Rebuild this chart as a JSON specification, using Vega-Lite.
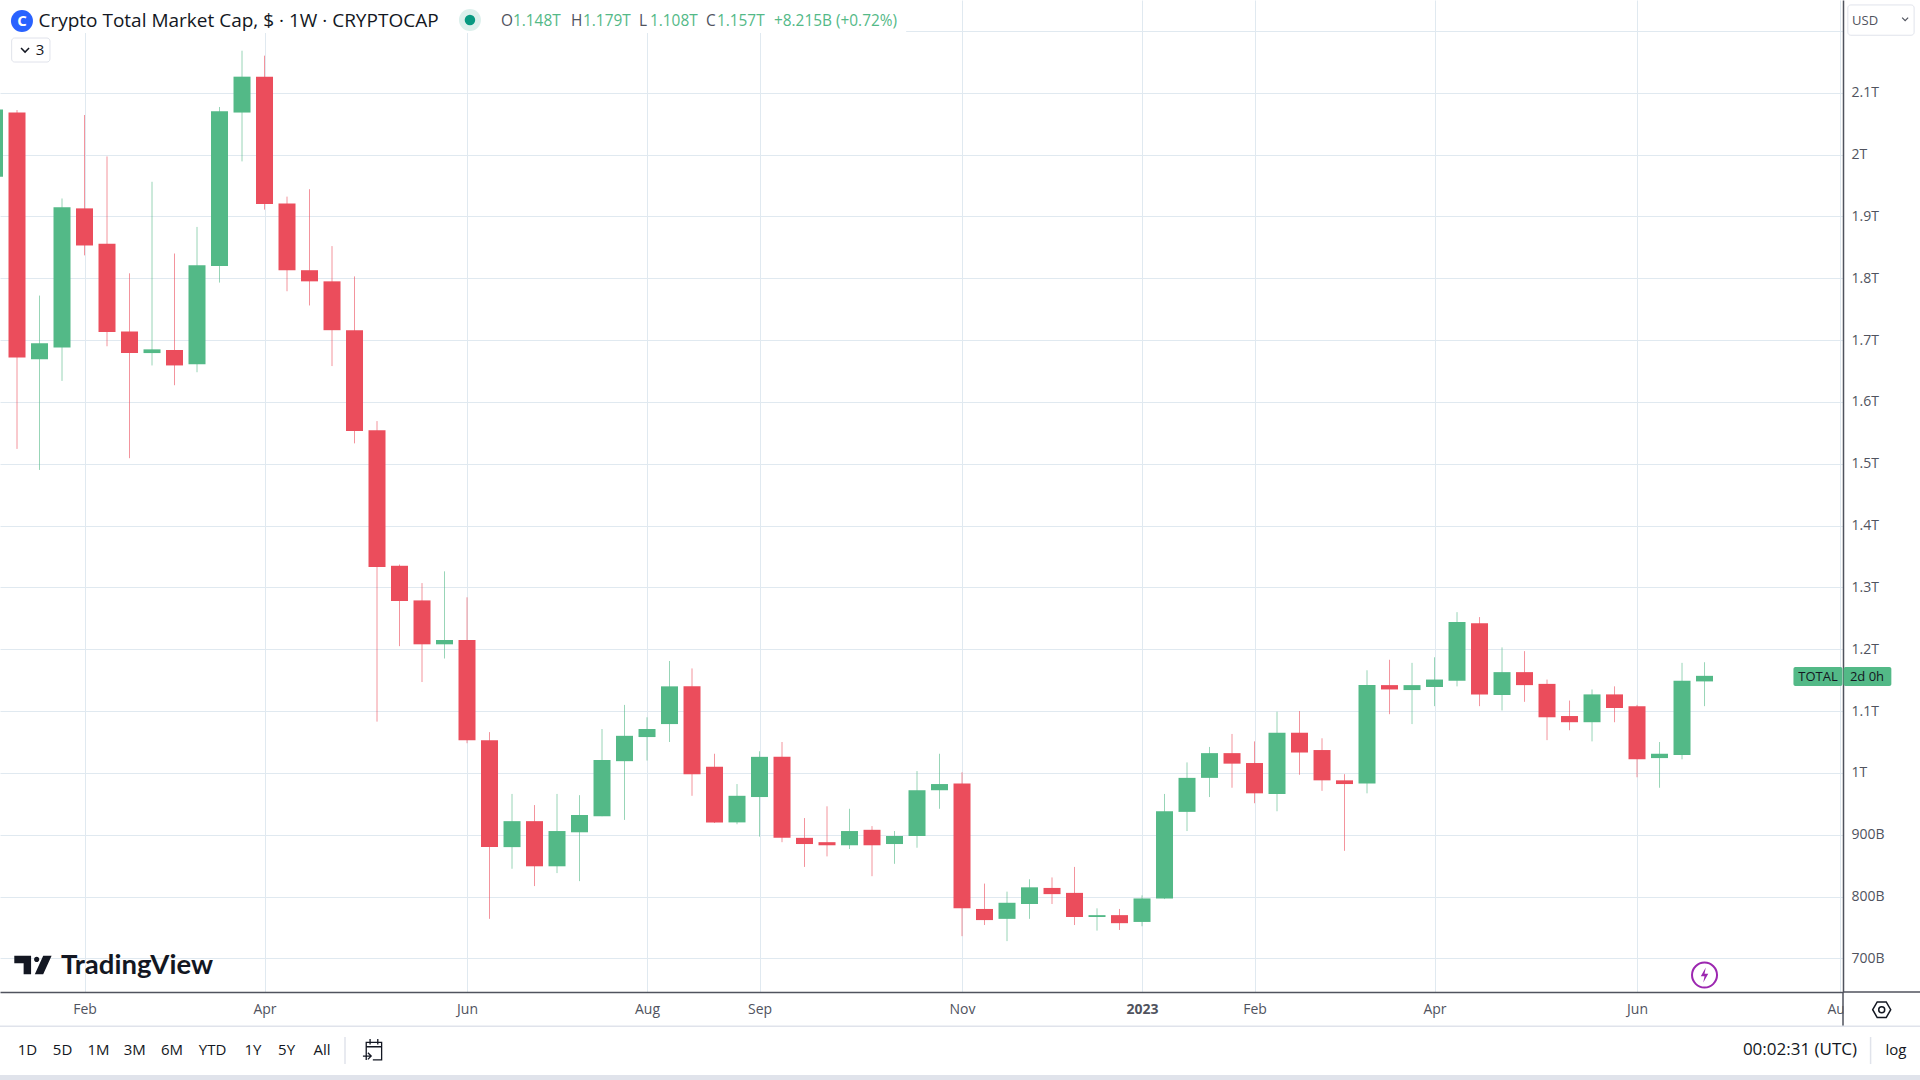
{
  "$schema": "https://vega.github.io/schema/vega-lite/v5.json",
  "background": "white",
  "autosize": "none",
  "padding": {"left": 0, "top": 0, "right": 77, "bottom": 88},
  "width": 1843,
  "height": 992,
  "view": {"stroke": null},
  "config": {"text": {"font": "Open Sans", "baseline": "middle"}},
  "datasets": {
    "candles": [
      {"date":"2022-01-10","open":1964,"high":2082,"low":1954,"close":2073},
      {"date":"2022-01-17","open":2068,"high":2072,"low":1524,"close":1672},
      {"date":"2022-01-24","open":1669,"high":1772,"low":1490,"close":1695},
      {"date":"2022-01-31","open":1688,"high":1929,"low":1634,"close":1915},
      {"date":"2022-02-07","open":1913,"high":2064,"low":1837,"close":1853},
      {"date":"2022-02-14","open":1856,"high":1997,"low":1690,"close":1713},
      {"date":"2022-02-21","open":1714,"high":1808,"low":1509,"close":1679},
      {"date":"2022-02-28","open":1679,"high":1956,"low":1659,"close":1685},
      {"date":"2022-03-07","open":1684,"high":1840,"low":1627,"close":1659},
      {"date":"2022-03-14","open":1661,"high":1883,"low":1648,"close":1821},
      {"date":"2022-03-21","open":1820,"high":2077,"low":1793,"close":2070},
      {"date":"2022-03-28","open":2068,"high":2168,"low":1989,"close":2126},
      {"date":"2022-04-04","open":2126,"high":2160,"low":1911,"close":1920},
      {"date":"2022-04-11","open":1921,"high":1932,"low":1779,"close":1813},
      {"date":"2022-04-18","open":1813,"high":1944,"low":1756,"close":1795},
      {"date":"2022-04-25","open":1795,"high":1852,"low":1658,"close":1716},
      {"date":"2022-05-02","open":1716,"high":1803,"low":1533,"close":1553},
      {"date":"2022-05-09","open":1554,"high":1569,"low":1083,"close":1333},
      {"date":"2022-05-16","open":1335,"high":1337,"low":1205,"close":1278},
      {"date":"2022-05-23","open":1279,"high":1307,"low":1147,"close":1208},
      {"date":"2022-05-30","open":1208,"high":1326,"low":1185,"close":1215},
      {"date":"2022-06-06","open":1215,"high":1284,"low":1048,"close":1053},
      {"date":"2022-06-13","open":1053,"high":1066,"low":764,"close":880},
      {"date":"2022-06-20","open":880,"high":966,"low":845,"close":922},
      {"date":"2022-06-27","open":922,"high":948,"low":817,"close":849},
      {"date":"2022-07-04","open":849,"high":966,"low":838,"close":906},
      {"date":"2022-07-11","open":904,"high":964,"low":825,"close":932},
      {"date":"2022-07-18","open":930,"high":1071,"low":930,"close":1021},
      {"date":"2022-07-25","open":1019,"high":1110,"low":924,"close":1060},
      {"date":"2022-08-01","open":1058,"high":1090,"low":1020,"close":1071},
      {"date":"2022-08-08","open":1079,"high":1181,"low":1050,"close":1140},
      {"date":"2022-08-15","open":1140,"high":1169,"low":963,"close":998},
      {"date":"2022-08-22","open":1010,"high":1031,"low":919,"close":920},
      {"date":"2022-08-29","open":920,"high":982,"low":917,"close":963},
      {"date":"2022-09-05","open":961,"high":1035,"low":897,"close":1026},
      {"date":"2022-09-12","open":1026,"high":1050,"low":888,"close":895},
      {"date":"2022-09-19","open":895,"high":927,"low":848,"close":885},
      {"date":"2022-09-26","open":888,"high":946,"low":865,"close":883},
      {"date":"2022-10-03","open":883,"high":942,"low":877,"close":906},
      {"date":"2022-10-10","open":908,"high":914,"low":833,"close":883},
      {"date":"2022-10-17","open":885,"high":906,"low":853,"close":898},
      {"date":"2022-10-24","open":898,"high":1003,"low":879,"close":972},
      {"date":"2022-10-31","open":972,"high":1031,"low":942,"close":982},
      {"date":"2022-11-07","open":983,"high":1001,"low":736,"close":781},
      {"date":"2022-11-14","open":780,"high":821,"low":754,"close":762},
      {"date":"2022-11-21","open":764,"high":808,"low":728,"close":790},
      {"date":"2022-11-28","open":788,"high":828,"low":764,"close":815},
      {"date":"2022-12-05","open":814,"high":831,"low":788,"close":804},
      {"date":"2022-12-12","open":806,"high":848,"low":754,"close":767},
      {"date":"2022-12-19","open":767,"high":781,"low":745,"close":770},
      {"date":"2022-12-26","open":770,"high":780,"low":746,"close":757},
      {"date":"2023-01-02","open":759,"high":802,"low":752,"close":797},
      {"date":"2023-01-09","open":797,"high":966,"low":796,"close":938},
      {"date":"2023-01-16","open":937,"high":1017,"low":906,"close":992},
      {"date":"2023-01-23","open":992,"high":1042,"low":961,"close":1032},
      {"date":"2023-01-30","open":1032,"high":1063,"low":976,"close":1015},
      {"date":"2023-02-06","open":1016,"high":1051,"low":951,"close":967},
      {"date":"2023-02-13","open":966,"high":1099,"low":938,"close":1065},
      {"date":"2023-02-20","open":1065,"high":1100,"low":997,"close":1033},
      {"date":"2023-02-27","open":1037,"high":1056,"low":971,"close":988},
      {"date":"2023-03-06","open":988,"high":998,"low":874,"close":982},
      {"date":"2023-03-13","open":983,"high":1166,"low":967,"close":1142},
      {"date":"2023-03-20","open":1142,"high":1183,"low":1095,"close":1135},
      {"date":"2023-03-27","open":1134,"high":1178,"low":1079,"close":1142},
      {"date":"2023-04-03","open":1139,"high":1187,"low":1108,"close":1151},
      {"date":"2023-04-10","open":1149,"high":1260,"low":1140,"close":1244},
      {"date":"2023-04-17","open":1242,"high":1252,"low":1108,"close":1127},
      {"date":"2023-04-24","open":1126,"high":1203,"low":1101,"close":1163},
      {"date":"2023-05-01","open":1163,"high":1197,"low":1115,"close":1142},
      {"date":"2023-05-08","open":1144,"high":1151,"low":1053,"close":1090},
      {"date":"2023-05-15","open":1092,"high":1117,"low":1069,"close":1082},
      {"date":"2023-05-22","open":1082,"high":1135,"low":1051,"close":1127},
      {"date":"2023-05-29","open":1127,"high":1140,"low":1082,"close":1105},
      {"date":"2023-06-05","open":1108,"high":1110,"low":993,"close":1022},
      {"date":"2023-06-12","open":1024,"high":1050,"low":976,"close":1031},
      {"date":"2023-06-19","open":1029,"high":1178,"low":1022,"close":1149},
      {"date":"2023-06-26","open":1148,"high":1179,"low":1108,"close":1157}
    ]
  },
  "encoding": {
    "x": {
      "field": "date",
      "type": "temporal",
      "title": null,
      "scale": {
        "type": "utc",
        "nice": false,
        "padding": 0,
        "domain": [
          {"year": 2022, "month": 1, "date": 11, "hours": 17, "utc": true},
          {"year": 2023, "month": 8, "date": 8, "hours": 2, "utc": true}
        ]
      },
      "axis": {
        "orient": "bottom",
        "values": [
          {"year": 2022, "month": 2, "date": 7, "utc": true},
          {"year": 2022, "month": 4, "date": 4, "utc": true},
          {"year": 2022, "month": 6, "date": 6, "utc": true},
          {"year": 2022, "month": 8, "date": 1, "utc": true},
          {"year": 2022, "month": 9, "date": 5, "utc": true},
          {"year": 2022, "month": 11, "date": 7, "utc": true},
          {"year": 2023, "month": 1, "date": 2, "utc": true},
          {"year": 2023, "month": 2, "date": 6, "utc": true},
          {"year": 2023, "month": 4, "date": 3, "utc": true},
          {"year": 2023, "month": 6, "date": 5, "utc": true},
          {"year": 2023, "month": 8, "date": 7, "utc": true}
        ],
        "labelExpr": "utcyear(datum.value)==2023 && utcmonth(datum.value)==0 ? '2023' : utcFormat(datum.value,'%b')",
        "labelFontWeight": {"condition": {"test": "utcyear(datum.value)==2023 && utcmonth(datum.value)==0", "value": "bold"}, "value": "normal"},
        "labelFont": "Open Sans",
        "labelFontSize": 14,
        "labelColor": "#50535e",
        "labelPadding": 10,
        "labelOverlap": false,
        "labelFlush": false,
        "ticks": false,
        "grid": true,
        "gridColor": "#e0e9f0",
        "gridWidth": 1,
        "domainColor": "#50535e",
        "domainWidth": 1.5
      }
    }
  },
  "layer": [
    {
      "data": {"name": "candles"},
      "mark": {"type": "rule", "strokeWidth": 1, "opacity": 0.6, "clip": true},
      "encoding": {
        "y": {
          "field": "low",
          "type": "quantitative",
          "title": null,
          "scale": {"domain": [645.7, 2250], "nice": false, "zero": false},
          "axis": {
            "orient": "right",
            "values": [700,800,900,1000,1100,1200,1300,1400,1500,1600,1700,1800,1900,2000,2100,2200],
            "labelExpr": "datum.value >= 1000 ? format(datum.value/1000,'.1~f') + 'T' : datum.value + 'B'",
            "labelFont": "Open Sans",
            "labelFontSize": 14,
            "labelColor": "#50535e",
            "labelPadding": 8,
            "labelOverlap": false,
            "labelFlush": false,
            "ticks": false,
            "grid": true,
            "gridColor": "#e0e9f0",
            "gridWidth": 1,
            "domainColor": "#50535e",
            "domainWidth": 1.5
          }
        },
        "y2": {"field": "high"},
        "color": {"condition": {"test": "datum.close >= datum.open", "value": "#53b987"}, "value": "#eb4d5c"}
      }
    },
    {
      "data": {"name": "candles"},
      "mark": {"type": "bar", "size": 17, "clip": true},
      "encoding": {
        "y": {"field": "open", "type": "quantitative", "title": null},
        "y2": {"field": "close"},
        "color": {"condition": {"test": "datum.close >= datum.open", "value": "#53b987"}, "value": "#eb4d5c"}
      }
    },
    {
      "data": {"values": [
        {"date":"2021-12-20","date2":"2022-10-20T15:00:00Z","value":2196.6,"value2":2300},
        {"date":"2023-08-08T06:00:00Z","date2":"2023-09-02","value":644.5,"value2":592}
      ]},
      "mark": {"type": "rect", "color": "white"},
      "encoding": {
        "x2": {"field": "date2"},
        "y": {"field": "value", "type": "quantitative", "title": null},
        "y2": {"field": "value2"}
      }
    },
    {
      "data": {"values": [
        {"date":"2022-01-15T08:00:00Z","date2":"2022-01-27T06:00:00Z","value":2188.5,"value2":2149.7},
        {"date":"2023-08-09T14:00:00Z","date2":"2023-08-30T05:00:00Z","value":2242,"value2":2193}
      ]},
      "mark": {"type": "rect", "fill": "white", "stroke": "#e0e3eb", "strokeWidth": 1, "cornerRadius": 3},
      "encoding": {
        "x2": {"field": "date2"},
        "y": {"field": "value", "type": "quantitative", "title": null},
        "y2": {"field": "value2"}
      }
    },
    {
      "data": {"values": [
        {"date":"2022-01-01","date2":"2023-09-02","value":511.4,"value2":500}
      ]},
      "mark": {"type": "rect", "color": "#e0e3eb"},
      "encoding": {
        "x2": {"field": "date2"},
        "y": {"field": "value", "type": "quantitative", "title": null},
        "y2": {"field": "value2"}
      }
    },
    {
      "data": {"values": [
        {"date":"2023-07-23T16:00:00Z","date2":"2023-08-07T22:00:00Z","value":1171.3,"value2":1140.5},
        {"date":"2023-08-08T06:00:00Z","date2":"2023-08-23T03:00:00Z","value":1171.3,"value2":1140.5}
      ]},
      "mark": {"type": "rect", "color": "#53b987", "cornerRadius": 2},
      "encoding": {
        "x2": {"field": "date2"},
        "y": {"field": "value", "type": "quantitative", "title": null},
        "y2": {"field": "value2"}
      }
    },
    {
      "data": {"values": [
        {"date":"2023-08-08T02:00:00Z","date2":"2023-08-08T02:00:00Z","value":645.7,"value2":590.6},
        {"date":"2023-08-08T02:00:00Z","date2":"2023-09-02","value":645.7,"value2":645.7}
      ]},
      "mark": {"type": "rule", "color": "#50535e", "strokeWidth": 1.5},
      "encoding": {
        "x2": {"field": "date2"},
        "y": {"field": "value", "type": "quantitative", "title": null},
        "y2": {"field": "value2"}
      }
    },
    {
      "data": {"values": [
        {"date":"2022-01-01","date2":"2023-09-02","value":590.4,"value2":590.4},
        {"date":"2022-04-29T01:00:00Z","date2":"2022-04-29T01:00:00Z","value":572.9,"value2":529.2},
        {"date":"2023-08-16T16:00:00Z","date2":"2023-08-16T16:00:00Z","value":572.9,"value2":529.2}
      ]},
      "mark": {"type": "rule", "color": "#e0e3eb", "strokeWidth": 1.5},
      "encoding": {
        "x2": {"field": "date2"},
        "y": {"field": "value", "type": "quantitative", "title": null},
        "y2": {"field": "value2"}
      }
    },
    {
      "data": {"values": [{"label":"Crypto Total Market Cap, $ · 1W · CRYPTOCAP","date":"2022-01-23T16:00:00Z","value":2216}]},
      "mark": {"type": "text", "align": "left", "fontSize": 19, "color": "#131722"},
      "encoding": {"text": {"field": "label"}, "y": {"field": "value", "type": "quantitative", "title": null}}
    },
    {
      "data": {"values": [
        {"label":"O","date":"2022-06-16T14:00:00Z","value":2216},
        {"label":"H","date":"2022-07-08T08:00:00Z","value":2216},
        {"label":"L","date":"2022-07-29T12:00:00Z","value":2216},
        {"label":"C","date":"2022-08-19T08:00:00Z","value":2216}
      ]},
      "mark": {"type": "text", "align": "left", "fontSize": 15.4, "color": "#50535e"},
      "encoding": {"text": {"field": "label"}, "y": {"field": "value", "type": "quantitative", "title": null}}
    },
    {
      "data": {"values": [
        {"label":"1.148T","date":"2022-06-20T07:00:00Z","value":2216},
        {"label":"1.179T","date":"2022-07-12T02:00:00Z","value":2216},
        {"label":"1.108T","date":"2022-08-01T22:00:00Z","value":2216},
        {"label":"1.157T","date":"2022-08-22T18:00:00Z","value":2216},
        {"label":"+8.215B (+0.72%)","date":"2022-09-09T12:00:00Z","value":2216}
      ]},
      "mark": {"type": "text", "align": "left", "fontSize": 15.4, "color": "#53b987"},
      "encoding": {"text": {"field": "label"}, "y": {"field": "value", "type": "quantitative", "title": null}}
    },
    {
      "data": {"values": [
        {"label":"3","date":"2022-01-24T04:00:00Z","value":2169},
        {"label":"1D","date":"2022-01-20T06:00:00Z","value":551.8},
        {"label":"5D","date":"2022-01-31T04:00:00Z","value":551.8},
        {"label":"1M","date":"2022-02-11T09:00:00Z","value":551.8},
        {"label":"3M","date":"2022-02-22T15:00:00Z","value":551.8},
        {"label":"6M","date":"2022-03-06T05:00:00Z","value":551.8},
        {"label":"YTD","date":"2022-03-18T20:00:00Z","value":551.8},
        {"label":"1Y","date":"2022-03-31T10:00:00Z","value":551.8},
        {"label":"5Y","date":"2022-04-10T21:00:00Z","value":551.8},
        {"label":"All","date":"2022-04-21T21:00:00Z","value":551.8},
        {"label":"log","date":"2023-08-24T13:00:00Z","value":551.8}
      ]},
      "mark": {"type": "text", "align": "center", "fontSize": 15, "color": "#131722"},
      "encoding": {"text": {"field": "label"}, "y": {"field": "value", "type": "quantitative", "title": null}}
    },
    {
      "data": {"values": [{"label":"00:02:31 (UTC)","date":"2023-08-12T11:00:00Z","value":551.8}]},
      "mark": {"type": "text", "align": "right", "fontSize": 17, "color": "#131722"},
      "encoding": {"text": {"field": "label"}, "y": {"field": "value", "type": "quantitative", "title": null}}
    },
    {
      "data": {"values": [{"label":"USD","date":"2023-08-10T22:00:00Z","value":2216}]},
      "mark": {"type": "text", "align": "left", "fontSize": 13, "color": "#50535e"},
      "encoding": {"text": {"field": "label"}, "y": {"field": "value", "type": "quantitative", "title": null}}
    },
    {
      "data": {"values": [
        {"label":"TOTAL","date":"2023-07-31T07:00:00Z","value":1155.9},
        {"label":"2d 0h","date":"2023-08-15T13:00:00Z","value":1155.9}
      ]},
      "mark": {"type": "text", "align": "center", "fontSize": 13, "color": "#131722"},
      "encoding": {"text": {"field": "label"}, "y": {"field": "value", "type": "quantitative", "title": null}}
    },
    {
      "data": {"values": [{"label":"TradingView","date":"2022-01-30T17:00:00Z","value":687.7}]},
      "mark": {"type": "text", "align": "left", "fontSize": 27.5, "font": "Lato", "fontWeight": 700, "color": "#131722"},
      "encoding": {"text": {"field": "label"}, "y": {"field": "value", "type": "quantitative", "title": null}}
    },
    {
      "data": {"values": [{"date":"2022-01-18T13:00:00Z","value":2216}]},
      "mark": {"type": "point", "shape": "circle", "filled": true, "size": 484, "color": "#2962ff", "opacity": 1},
      "encoding": {"y": {"field": "value", "type": "quantitative", "title": null}}
    },
    {
      "data": {"values": [{"label":"C","date":"2022-01-18T13:00:00Z","value":2216}]},
      "mark": {"type": "text", "align": "center", "fontSize": 15, "fontWeight": "bold", "color": "white"},
      "encoding": {"text": {"field": "label"}, "y": {"field": "value", "type": "quantitative", "title": null}}
    },
    {
      "data": {"values": [{"date":"2022-06-06T22:00:00Z","value":2217.7}]},
      "mark": {"type": "point", "shape": "circle", "filled": true, "size": 484, "color": "#dcf0ec", "opacity": 1},
      "encoding": {"y": {"field": "value", "type": "quantitative", "title": null}}
    },
    {
      "data": {"values": [{"date":"2022-06-06T22:00:00Z","value":2217.7}]},
      "mark": {"type": "point", "shape": "circle", "filled": true, "size": 110, "color": "#089981", "opacity": 1},
      "encoding": {"y": {"field": "value", "type": "quantitative", "title": null}}
    },
    {
      "data": {"values": [{"date":"2022-01-19T12:00:00Z","value":2169}]},
      "mark": {"type": "point", "shape": "M-1,-.5L0,.5L1,-.5", "filled": false, "size": 64, "stroke": "#131722", "strokeWidth": 1.5, "opacity": 1},
      "encoding": {"y": {"field": "value", "type": "quantitative", "title": null}}
    },
    {
      "data": {"values": [{"date":"2023-08-27T10:00:00Z","value":2219}]},
      "mark": {"type": "point", "shape": "M-1,-.5L0,.5L1,-.5", "filled": false, "size": 36, "stroke": "#50535e", "strokeWidth": 1.2, "opacity": 1},
      "encoding": {"y": {"field": "value", "type": "quantitative", "title": null}}
    },
    {
      "data": {"values": [{"date":"2022-01-21T23:00:00Z","value":689.3}]},
      "mark": {"type": "point", "shape": "M-1,-.5H-.1V.5H-.5V-.1H-1ZM.06,-.3A.14,.14 0 1 0 .34,-.3A.14,.14 0 1 0 .06,-.3ZM.55,-.5H1L.55,.5H.1Z", "filled": true, "size": 1391, "color": "#131722", "opacity": 1},
      "encoding": {"y": {"field": "value", "type": "quantitative", "title": null}}
    },
    {
      "data": {"values": [{"date":"2023-06-26","value":673.1}]},
      "mark": {"type": "point", "shape": "circle", "filled": false, "size": 625, "stroke": "#9c27b0", "strokeWidth": 2, "opacity": 1},
      "encoding": {"y": {"field": "value", "type": "quantitative", "title": null}}
    },
    {
      "data": {"values": [{"date":"2023-06-26","value":673.1}]},
      "mark": {"type": "point", "shape": "M.1,-.6L-.3,.1H0L-.1,.6L.3,-.1H0Z", "filled": true, "size": 625, "color": "#9c27b0", "opacity": 1},
      "encoding": {"y": {"field": "value", "type": "quantitative", "title": null}}
    },
    {
      "data": {"values": [{"date":"2022-05-08T01:00:00Z","value":551.8}]},
      "mark": {"type": "point", "shape": "M-.7,.9V-.7H.7V.9H-.1M-.7,-.3H.7M-.35,-1V-.5M.35,-1V-.5M-1,.55H-.25M-.55,.25L-.25,.55L-.55,.85", "filled": false, "size": 484, "stroke": "#131722", "strokeWidth": 1.3, "opacity": 1},
      "encoding": {"y": {"field": "value", "type": "quantitative", "title": null}}
    },
    {
      "data": {"values": [{"date":"2023-08-20T03:00:00Z","value":617}]},
      "mark": {"type": "point", "shape": "M-1,0L-.5,-.87H.5L1,0L.5,.87H-.5Z", "filled": false, "size": 324, "stroke": "#131722", "strokeWidth": 1.5, "opacity": 1},
      "encoding": {"y": {"field": "value", "type": "quantitative", "title": null}}
    },
    {
      "data": {"values": [{"date":"2023-08-20T03:00:00Z","value":617}]},
      "mark": {"type": "point", "shape": "circle", "filled": false, "size": 36, "stroke": "#131722", "strokeWidth": 1.5, "opacity": 1},
      "encoding": {"y": {"field": "value", "type": "quantitative", "title": null}}
    }
  ]
}
